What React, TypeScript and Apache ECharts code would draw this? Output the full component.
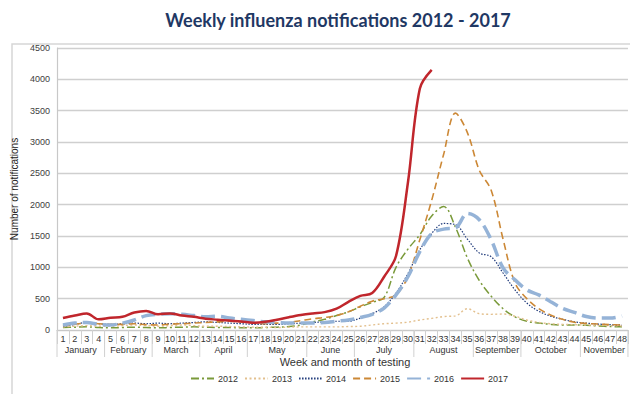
import React, { useEffect, useRef } from "react";
import * as echarts from "echarts";

const weeks = ["1","2","3","4","5","6","7","8","9","10","11","12","13","14","15","16","17","18","19","20","21","22","23","24","25","26","27","28","29","30","31","32","33","34","35","36","37","38","39","40","41","42","43","44","45","46","47","48"];

const monthNames = ["January","February","March","April","May","June","July","August","September","October","November"];
const monthStart = [1,5,9,13,17,22,26,31,36,40,45];
const monthEnd = [4,8,12,16,21,25,30,35,39,44,48];

const yTicks = [0,500,1000,1500,2000,2500,3000,3500,4000,4500];

const s2012 = [40,45,50,40,35,40,45,40,35,40,45,50,45,40,40,35,35,40,45,55,80,130,170,230,290,370,440,520,1000,1290,1520,1820,1970,1640,1150,790,540,340,210,140,110,90,80,80,75,65,55,50];
const s2013 = [50,60,70,60,60,70,80,70,60,70,80,70,60,60,55,50,45,45,40,45,50,50,50,50,55,60,80,100,110,125,160,185,215,225,340,260,250,255,220,160,120,100,90,85,80,75,70,65];
const s2014 = [60,90,120,100,90,100,110,100,110,100,110,120,130,120,110,100,90,90,90,100,110,120,130,140,140,190,260,370,590,900,1280,1540,1700,1680,1450,1230,1170,910,640,430,300,220,170,130,110,95,85,80];
const s2015 = [70,90,110,100,90,90,100,85,80,95,100,110,120,130,140,130,110,100,110,120,150,180,200,230,290,380,460,500,560,850,1440,2070,2800,3460,3150,2550,2230,1450,750,500,340,240,170,125,105,95,85,80];
const s2016 = [80,110,120,90,80,110,160,230,250,260,250,230,210,220,190,170,150,130,120,110,110,110,120,140,160,200,250,350,560,850,1250,1540,1610,1630,1860,1760,1440,990,800,640,560,450,345,280,215,190,190,225];
const s2017 = [190,230,265,170,195,210,280,305,250,265,230,210,180,165,150,135,115,130,165,205,240,265,285,340,450,545,590,850,1180,2350,3850,4150];

const years = ["2012","2013","2014","2015","2016","2017"];
const seriesData = [s2012, s2013, s2014, s2015, s2016, s2017];
const colors = ["#7A9A3A","#E3C08E","#1F3A7A","#CC8836","#95B3D7","#C0262C"];
const widths = [1.5,1.4,1.2,1.6,3.5,2.5];
const dashes: any[] = [[8,3,2,3],[2,2.5],[1.5,1.5],[7,4],[14,6],"solid"];

export default function App() {
  const ref = useRef<HTMLDivElement>(null);
  useEffect(() => {
    const el = ref.current!;
    const chart = echarts.init(el, null, { renderer: "svg" });
    const option: any = {
      animation: false,
      backgroundColor: "#ffffff",
      textStyle: { fontFamily: "Liberation Sans, Arial, sans-serif" },
      grid: { left: 57, right: 0, top: 48, bottom: 64, containLabel: false },
      legend: {
        left: 185,
        top: 369,
        itemWidth: 23,
        itemHeight: 10,
        itemGap: 6,
        itemStyle: { opacity: 0 },
        textStyle: { fontSize: 9, color: "#333", padding: [0, 0, 0, -1] },
        data: years,
      },
      xAxis: {
        type: "category",
        data: weeks,
        boundaryGap: true,
        axisLine: { show: true, lineStyle: { color: "#c8c8c8", width: 1 } },
        axisTick: { show: true, interval: 0, length: 14, lineStyle: { color: "#d0d0d0" } },
        axisLabel: { interval: 0, fontSize: 9, color: "#333", margin: 4 },
      },
      yAxis: {
        type: "value",
        min: 0,
        max: 4500,
        interval: 500,
        name: "Number of notifications",
        nameLocation: "middle",
        nameGap: 29,
        nameRotate: 90,
        nameTextStyle: { fontSize: 10, color: "#222" },
        axisLine: { show: true, lineStyle: { color: "#c8c8c8", width: 1.2 } },
        axisTick: { show: false },
        splitLine: { lineStyle: { color: "#cfcfcf", width: 1.3 } },
        axisLabel: {
          fontSize: 9,
          color: "#404040",
          margin: 7,
          customValues: yTicks,
          formatter: (v: number) => String(v),
        },
      },
      series: years.map((y, i) => ({
        name: y,
        type: "line",
        data: seriesData[i],
        smooth: 0.35,
        symbol: "none",
        z: 2 + i,
        lineStyle: { color: colors[i], width: widths[i], type: dashes[i] },
        itemStyle: { color: colors[i] },
      })),
    };
    chart.setOption(option);

    const x1 = chart.convertToPixel({ xAxisIndex: 0 }, "1") as number;
    const x2 = chart.convertToPixel({ xAxisIndex: 0 }, "2") as number;
    const half = (x2 - x1) / 2;
    const y0 = chart.convertToPixel({ yAxisIndex: 0 }, 0) as number;
    const gr: any[] = [
      {
        type: "rect",
        shape: { x: 12, y: 44, width: 640, height: 360 },
        style: { fill: "none", stroke: "#d6d6d6", lineWidth: 1.5 },
        silent: true,
      },
      {
        type: "text",
        x: 338,
        y: 20,
        style: {
          text: "Weekly influenza notifications 2012 - 2017",
          fill: "#1F3864",
          font: "bold 18px Lato, 'Open Sans', sans-serif",
          textAlign: "center",
          textVerticalAlign: "middle",
        },
      },
      {
        type: "text",
        x: 345,
        y: 362,
        style: {
          text: "Week and month of testing",
          fill: "#333",
          font: "11px 'Liberation Sans', Arial, sans-serif",
          textAlign: "center",
          textVerticalAlign: "middle",
        },
      },
    ];
    monthNames.forEach((m, i) => {
      const xs = (chart.convertToPixel({ xAxisIndex: 0 }, weeks[monthStart[i] - 1]) as number) - half;
      const xe = (chart.convertToPixel({ xAxisIndex: 0 }, weeks[monthEnd[i] - 1]) as number) + half;
      gr.push({
        type: "line",
        shape: { x1: xs, y1: y0, x2: xs, y2: y0 + 27 },
        style: { stroke: "#d0d0d0", lineWidth: 1 },
        silent: true,
      });
      if (i === monthNames.length - 1) {
        gr.push({
          type: "line",
          shape: { x1: xe, y1: y0, x2: xe, y2: y0 + 27 },
          style: { stroke: "#d0d0d0", lineWidth: 1 },
          silent: true,
        });
      }
      gr.push({
        type: "text",
        x: (xs + xe) / 2,
        y: y0 + 20,
        style: {
          text: m,
          fill: "#333",
          font: "9px 'Liberation Sans', Arial, sans-serif",
          textAlign: "center",
          textVerticalAlign: "middle",
        },
      });
    });
    chart.setOption({ graphic: gr });
    return () => chart.dispose();
  }, []);
  return <div ref={ref} style={{ width: 630, height: 394, position: "absolute", left: 0, top: 0 }} />;
}
